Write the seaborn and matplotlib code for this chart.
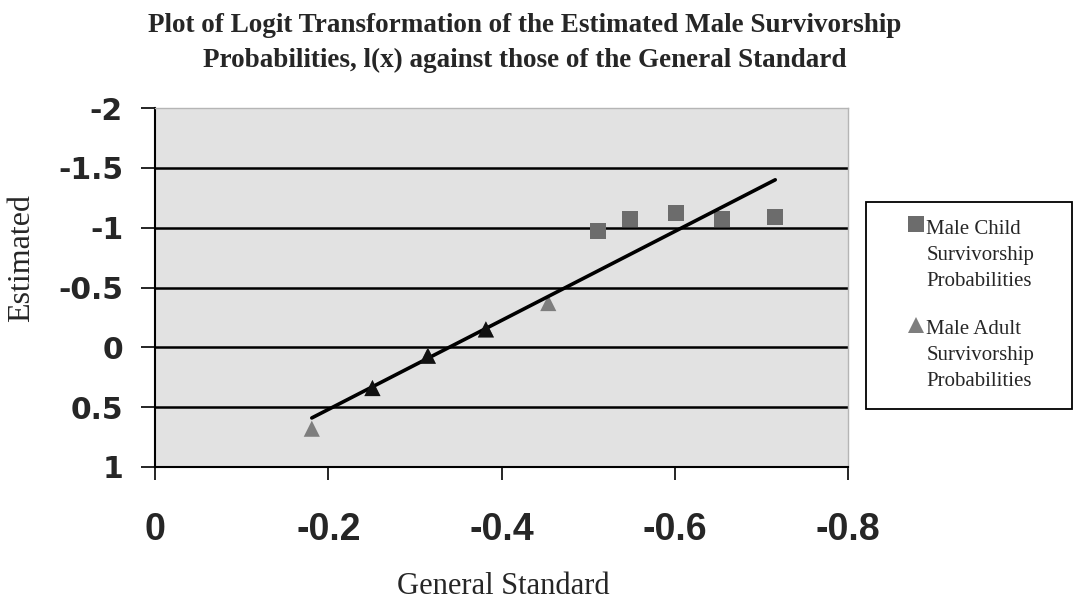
import numpy as np
import pandas as pd
import matplotlib
matplotlib.use("Agg")
import matplotlib.pyplot as plt
from matplotlib import font_manager
from matplotlib.lines import Line2D
from matplotlib.legend_handler import HandlerLine2D
import seaborn as sns

# ---- data ----
child_x = [-0.511, -0.548, -0.601, -0.655, -0.716]
child_y = [-0.97, -1.07, -1.12, -1.07, -1.09]
adult_x = [-0.181, -0.251, -0.315, -0.382, -0.454]
adult_y = [0.68, 0.34, 0.07, -0.15, -0.37]
line_x = [-0.181, -0.716]
line_y = [0.59, -1.40]
series_names = ["Male Child\nSurvivorship\nProbabilities",
                "Male Adult\nSurvivorship\nProbabilities"]
x_ticks = [0, -0.2, -0.4, -0.6, -0.8]
x_ticklabels = ["0", "-0.2", "-0.4", "-0.6", "-0.8"]
y_ticks = [-2, -1.5, -1, -0.5, 0, 0.5, 1]
y_ticklabels = ["-2", "-1.5", "-1", "-0.5", "0", "0.5", "1"]
title = ("Plot of Logit Transformation of the Estimated Male Survivorship\n"
         "Probabilities, l(x) against those of the General Standard")
x_label = "General Standard"
y_label = "Estimated"

df = pd.DataFrame({
    "x": child_x + adult_x,
    "y": child_y + adult_y,
    "series": [series_names[0]] * len(child_x) + [series_names[1]] * len(adult_x),
})
line_df = pd.DataFrame({"x": line_x, "y": line_y})

W, H = 1079, 601
sns.set_style("white")
plt.rcParams["font.family"] = ["Liberation Serif", "DejaVu Serif"]

installed = {f.name for f in font_manager.fontManager.ttflist}
if "Liberation Sans Narrow" in installed:
    xfont, xsize = "Liberation Sans Narrow", 31
else:
    xfont, xsize = "Liberation Sans", 27

colors = {series_names[0]: "#6c6c6c", series_names[1]: "#7e7e7e"}
markers = {series_names[0]: "s", series_names[1]: "^"}

fig = plt.figure(figsize=(W / 100, H / 100), dpi=100)
ax = fig.add_axes([155 / W, 1 - 467 / H, (848 - 155) / W, (467 - 108) / H])
ax.set_facecolor("#e2e2e2")

for yv in y_ticks[1:-1]:
    ax.axhline(yv, color="black", lw=1.8, zorder=1)

sns.scatterplot(data=df, x="x", y="y", hue="series", style="series",
                markers=markers, palette=colors, s=135, edgecolor="none",
                ax=ax, zorder=3, legend=False)
sns.lineplot(data=line_df, x="x", y="y", color="black", lw=2.6, ax=ax,
             zorder=4, legend=False)
sns.scatterplot(x=adult_x[1:4], y=adult_y[1:4], marker="^", color="#111111",
                s=135, edgecolor="none", ax=ax, zorder=5, legend=False)

ax.set_xlim(0, -0.8)
ax.set_ylim(1, -2)
ax.set_xticks(x_ticks)
ax.set_xticklabels(x_ticklabels)
ax.set_yticks(y_ticks)
ax.set_yticklabels(y_ticklabels)
for lab in ax.get_xticklabels():
    lab.set_family([xfont, "DejaVu Sans"])
    lab.set_fontweight("bold")
    lab.set_fontsize(xsize)
for lab in ax.get_yticklabels():
    lab.set_family(["DejaVu Sans"])
    lab.set_fontweight("bold")
    lab.set_fontsize(21.5)
ax.tick_params(axis="x", direction="out", length=9, width=1.2, pad=23.5, color="black")
ax.tick_params(axis="y", direction="out", length=10, width=1.2, pad=13, color="black")
ax.xaxis.set_ticks_position("bottom")
ax.yaxis.set_ticks_position("left")

for side in ["left", "bottom"]:
    ax.spines[side].set_color("black")
    ax.spines[side].set_linewidth(1.5)
for side in ["top", "right"]:
    ax.spines[side].set_color("#b5b5b5")
    ax.spines[side].set_linewidth(1.0)

ax.set_xlabel(x_label, fontsize=22, va="center")
ax.xaxis.set_label_coords(0.503, -(587 - 467) / (467 - 108))
ax.set_ylabel(y_label, fontsize=23, va="center")
ax.yaxis.set_label_coords((22 - 155) / (848 - 155), (467 - 258) / (467 - 108))

fig.text(525 / W, 1 - 13 / H, title, ha="center", va="top", fontsize=19.5,
         fontweight="bold", linespacing=1.52)


class TopHandler(HandlerLine2D):
    """Place the legend marker next to the first line of a multi-line label."""
    def __init__(self, dx=0.0, dy=0.0, **kw):
        super().__init__(**kw)
        self._dx, self._dy = dx, dy

    def create_artists(self, legend, orig_handle, xdescent, ydescent,
                       width, height, fontsize, trans):
        arts = super().create_artists(legend, orig_handle, xdescent, ydescent,
                                      width, height, fontsize, trans)
        for a in arts:
            a.set_xdata(np.asarray(a.get_xdata(), float) + self._dx)
            a.set_ydata(np.asarray(a.get_ydata(), float) + self._dy)
        return arts


handles = [Line2D([], [], linestyle="None", marker=markers[n], color=colors[n],
                  markersize=11, markeredgewidth=0) for n in series_names]
leg = fig.legend(handles, series_names, loc="upper left",
                 bbox_to_anchor=(866 / W, 1 - 202 / H, 206 / W, 0.0),
                 mode="expand", borderaxespad=0.0,
                 frameon=True, fancybox=False, framealpha=1,
                 edgecolor="black", fontsize=15, handletextpad=0.0,
                 handlelength=2.05, labelspacing=1.4, borderpad=0.85,
                 numpoints=1,
                 handler_map={Line2D: TopHandler(dx=7.6, dy=22.0)})
leg.get_frame().set_linewidth(1.3)
for t in leg.get_texts():
    t.set_linespacing(1.5)

fig.savefig("out.png", dpi=100, facecolor="white")
